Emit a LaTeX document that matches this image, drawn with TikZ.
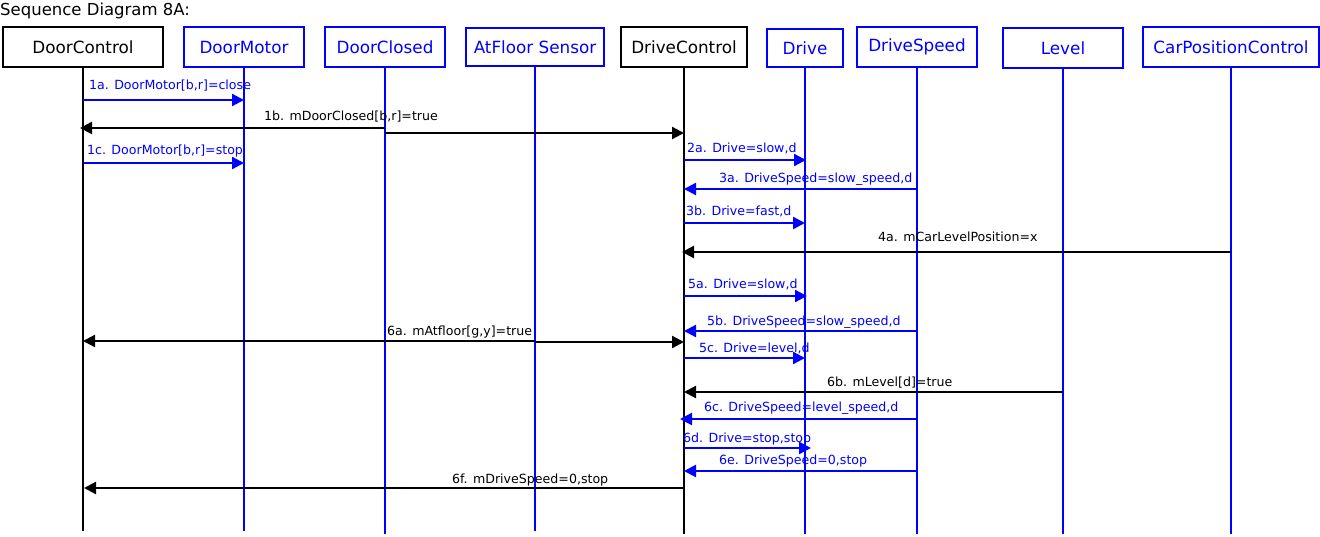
\documentclass[tikz,border=0pt]{standalone}
\usepackage{fontspec}
\setmainfont{DejaVu Sans}
\usetikzlibrary{arrows.meta}
\definecolor{pblue}{RGB}{0,0,255}
\begin{document}
\begin{tikzpicture}[x=1bp,y=-1bp,
  obj/.style={draw, line width=2.3bp, inner sep=0pt, font=\fontsize{16.8bp}{18bp}\selectfont},
  bobj/.style={obj, line width=2.8bp, draw=black, text=black},
  uobj/.style={obj, draw=pblue, text=pblue},
  life/.style={line width=2.3bp},
  msg/.style={line width=2.3bp, -{Triangle[length=12bp,width=12bp]}},
  lbl/.style={anchor=base west, inner sep=0pt, font=\fontsize{12.6bp}{14bp}\selectfont},
]
\useasboundingbox (0,0) rectangle (1320,537);

% title
\node[anchor=base west, inner sep=0pt, font=\fontsize{16.5bp}{18bp}\selectfont] (title) at (0,16) {Sequence Diagram 8A:};

% objects
\node[bobj, minimum width=160bp, minimum height=40bp] (dc) at (83,47) {DoorControl};
\node[uobj, minimum width=120bp, minimum height=40bp] (dm) at (244,47) {DoorMotor};
\node[uobj, minimum width=120bp, minimum height=40bp] (dcl) at (385,47) {DoorClosed};
\node[uobj, minimum width=138bp, minimum height=38bp] (af) at (535,47) {AtFloor Sensor};
\node[bobj, minimum width=126bp, minimum height=40bp] (drc) at (684,47) {DriveControl};
\node[uobj, minimum width=76bp, minimum height=38bp] (dr) at (805,48) {Drive};
\node[uobj, minimum width=120bp, minimum height=40bp] (ds) at (917,47) {DriveSpeed};
\node[uobj, minimum width=120bp, minimum height=40bp] (lv) at (1063,48) {Level};
\node[uobj, minimum width=176bp, minimum height=40bp] (cp) at (1231,47) {CarPositionControl};

% lifeline ends
\coordinate (e1) at (0,531);
\coordinate (e2) at (0,534);
\draw[life] (dc.south) -- (dc |- e1);
\draw[life, pblue] (dm.south) -- (dm |- e1);
\draw[life, pblue] (dcl.south) -- (dcl |- e2);
\draw[life, pblue] (af.south) -- (af |- e1);
\draw[life] (drc.south) -- (drc |- e2);
\draw[life, pblue] (dr.south) -- (dr |- e2);
\draw[life, pblue] (ds.south) -- (ds |- e2);
\draw[life, pblue] (lv.south) -- (lv |- e2);
\draw[life, pblue] (cp.south) -- (cp |- e2);

% rows
\coordinate (r1a) at (0,100);
\coordinate (r1bl) at (0,128);
\coordinate (r1br) at (0,133);
\coordinate (r1c) at (0,163);
\coordinate (r2a) at (0,160);
\coordinate (r3a) at (0,189);
\coordinate (r3b) at (0,223);
\coordinate (r4a) at (0,252);
\coordinate (r5a) at (0,296);
\coordinate (r5b) at (0,331);
\coordinate (r6al) at (0,341);
\coordinate (r6ar) at (0,342);
\coordinate (r5c) at (0,358);
\coordinate (r6b) at (0,392);
\coordinate (r6c) at (0,419);
\coordinate (r6d) at (0,448);
\coordinate (r6e) at (0,471);
\coordinate (r6f) at (0,488);

% messages
\draw[msg, pblue] (dc |- r1a) -- (dm |- r1a);
\draw[msg] (dcl |- r1bl) -- ([xshift=-3bp]dc |- r1bl);
\draw[msg] (dcl |- r1br) -- (drc |- r1br);
\draw[msg, pblue] (dc |- r1c) -- (dm |- r1c);
\draw[msg, pblue] (drc |- r2a) -- ([xshift=1bp]dr |- r2a);
\draw[msg, pblue] (ds |- r3a) -- (drc |- r3a);
\draw[msg, pblue] (drc |- r3b) -- (dr |- r3b);
\draw[msg] (cp |- r4a) -- ([xshift=-2bp]drc |- r4a);
\draw[msg, pblue] (drc |- r5a) -- ([xshift=2bp]dr |- r5a);
\draw[msg, pblue] (ds |- r5b) -- (drc |- r5b);
\draw[msg] (af |- r6al) -- (dc |- r6al);
\draw[msg] (af |- r6ar) -- (drc |- r6ar);
\draw[msg, pblue] (drc |- r5c) -- (dr |- r5c);
\draw[msg] (lv |- r6b) -- (drc |- r6b);
\draw[msg, pblue] (ds |- r6c) -- ([xshift=-4bp]drc |- r6c);
\draw[msg, pblue] (drc |- r6d) -- ([xshift=6bp]dr |- r6d);
\draw[msg, pblue] (ds |- r6e) -- (drc |- r6e);
\draw[msg] (drc |- r6f) -- ([xshift=1bp]dc |- r6f);

% labels
\node[lbl, text=pblue] (l1a) at (89,90) {1a. DoorMotor[b,r]=close};
\node[lbl] (l1b) at (264,121) {1b. mDoorClosed[b,r]=true};
\node[lbl, text=pblue] (l1c) at (87,155) {1c. DoorMotor[b,r]=stop};
\node[lbl, text=pblue] (l2a) at (687,153) {2a. Drive=slow,d};
\node[lbl, text=pblue] (l3a) at (719,183) {3a. DriveSpeed=slow\_speed,d};
\node[lbl, text=pblue] (l3b) at (686,216) {3b. Drive=fast,d};
\node[lbl] (l4a) at (878,242) {4a. mCarLevelPosition=x};
\node[lbl, text=pblue] (l5a) at (688,288) {5a. Drive=slow,d};
\node[lbl, text=pblue] (l5b) at (707,325) {5b. DriveSpeed=slow\_speed,d};
\node[lbl] (l6a) at (387,335) {6a. mAtfloor[g,y]=true};
\node[lbl, text=pblue] (l5c) at (699,352) {5c. Drive=level,d};
\node[lbl] (l6b) at (827,386) {6b. mLevel[d]=true};
\node[lbl, text=pblue] (l6c) at (704,411) {6c. DriveSpeed=level\_speed,d};
\node[lbl, text=pblue] (l6d) at (683,442) {6d. Drive=stop,stop};
\node[lbl, text=pblue] (l6e) at (719,464) {6e. DriveSpeed=0,stop};
\node[lbl] (l6f) at (452,483) {6f. mDriveSpeed=0,stop};
\end{tikzpicture}
\end{document}
